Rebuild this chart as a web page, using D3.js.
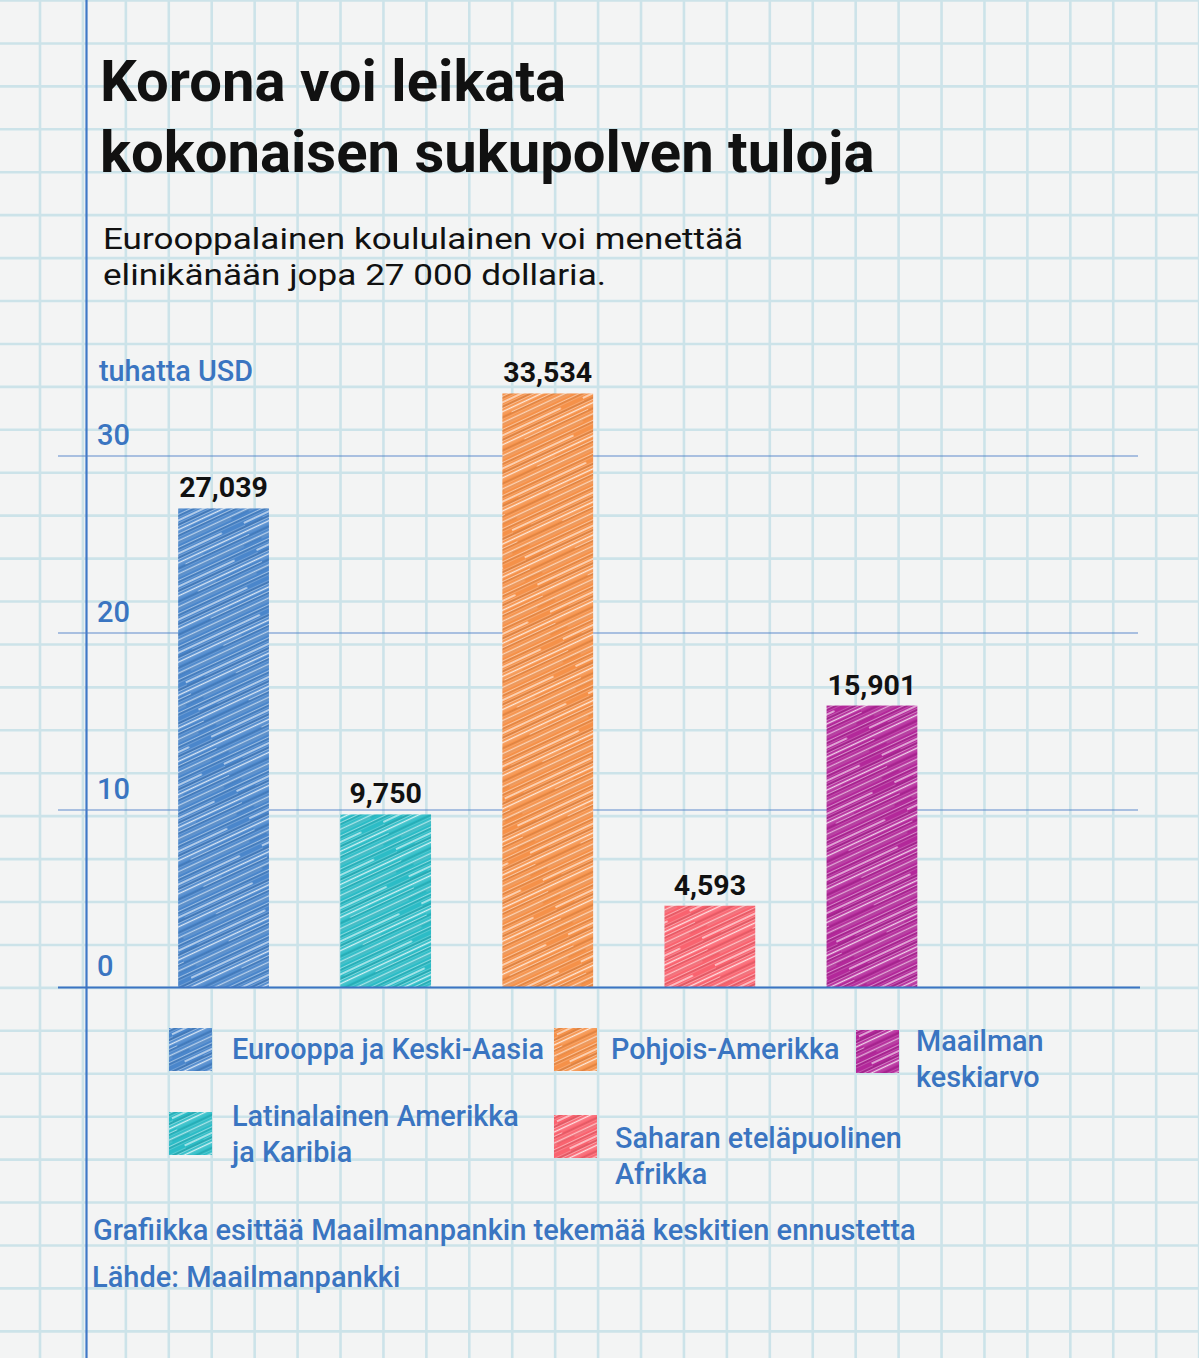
<!DOCTYPE html>
<html><head><meta charset="utf-8">
<script src="https://cdn.jsdelivr.net/npm/d3@7"></script>
<style>
html,body{margin:0;padding:0;background:#f3f4f4;}
svg{display:block;}
</style></head>
<body>
<svg id="chart" width="1199" height="1358"></svg>
<script>
// ---- data ----
const categories = ["Eurooppa ja Keski-Aasia", "Latinalainen Amerikka ja Karibia", "Pohjois-Amerikka", "Saharan eteläpuolinen Afrikka", "Maailman keskiarvo"];
const values = [27.039, 9.750, 33.534, 4.593, 15.901];
const valueLabels = ["27,039", "9,750", "33,534", "4,593", "15,901"];
const colors = ["#4a86cb", "#2cbcc6", "#f59149", "#f9636f", "#b3289a"];
const yTicks = [0, 10, 20, 30];
const yTickLabels = ["0", "10", "20", "30"];
const legendLines = [["Eurooppa ja Keski-Aasia"], ["Latinalainen Amerikka", "ja Karibia"], ["Pohjois-Amerikka"], ["Saharan eteläpuolinen", "Afrikka"], ["Maailman", "keskiarvo"]];
const titleLines = ["Korona voi leikata", "kokonaisen sukupolven tuloja"];
const subtitleLines = ["Eurooppalainen koululainen voi menettää", "elinikänään jopa 27 000 dollaria."];
const unitLabel = "tuhatta USD";
const noteText = "Grafiikka esittää Maailmanpankin tekemää keskitien ennustetta";
const sourceText = "Lähde: Maailmanpankki";

const W = 1199, H = 1358;
const svg = d3.select("#chart");
const blue = "#3a75c1";
const defs = svg.append("defs");

// ---- paper background ----
svg.append("rect").attr("width", W).attr("height", H).attr("fill", "#f3f4f4");
const gridStep = 42.93;
const paper = svg.append("g").attr("stroke", "#cce3e9").attr("stroke-width", 2.6);
paper.selectAll("line.v").data(d3.range(40 - gridStep, W + gridStep, gridStep)).join("line")
  .attr("x1", d => d).attr("x2", d => d).attr("y1", 0).attr("y2", H);
paper.selectAll("line.h").data(d3.range(0.5, H + gridStep, gridStep)).join("line")
  .attr("y1", d => d).attr("y2", d => d).attr("x1", 0).attr("x2", W);
// margin line
svg.append("line").attr("x1", 86.5).attr("x2", 86.5).attr("y1", 0).attr("y2", H)
  .attr("stroke", "#3f78c6").attr("stroke-width", 2.2);

// ---- sketch patterns ----
const streaks = [
  [0, 120, 1.5, 0.45, 1.0], [0, 120, 4.5, 0.3, 0.6], [0, 95, 7.0, 0.75, 1.7], [20, 120, 9.5, 0.3, 0.7],
  [0, 120, 12.5, 0.45, 0.9], [0, 120, 15.5, 0.8, 1.6], [0, 70, 18.0, 0.3, 0.6], [50, 120, 19.5, 0.5, 1.0],
  [0, 120, 22.5, 0.3, 0.6], [0, 120, 25.5, 0.6, 1.3], [10, 110, 28.0, 0.35, 0.7]
];
const darkStreaks = [[0, 120, 3.0, 0.14, 1.0], [0, 120, 11.0, 0.12, 1.3], [0, 120, 20.8, 0.16, 0.9], [0, 120, 27, 0.1, 1.0]];
colors.forEach((c, i) => {
  const p = defs.append("pattern").attr("id", "sk" + i).attr("patternUnits", "userSpaceOnUse")
    .attr("width", 120).attr("height", 30).attr("patternTransform", "rotate(-25)");
  p.append("rect").attr("width", 120).attr("height", 30).attr("fill", c);
  darkStreaks.forEach(s => p.append("line").attr("x1", s[0]).attr("x2", s[1]).attr("y1", s[2]).attr("y2", s[2])
    .attr("stroke", "#000").attr("stroke-opacity", s[3]).attr("stroke-width", s[4]));
  streaks.forEach(s => p.append("line").attr("x1", s[0]).attr("x2", s[1]).attr("y1", s[2]).attr("y2", s[2])
    .attr("stroke", "#fff").attr("stroke-opacity", s[3]).attr("stroke-width", s[4]).attr("stroke-linecap", "round"));
});

// ---- titles ----
const title = svg.append("g").attr("font-family", "Roboto, sans-serif").attr("font-weight", 700)
  .attr("fill", "#111").attr("font-size", 58);
title.selectAll("text").data(titleLines).join("text")
  .attr("x", 100).attr("y", (d, i) => 101 + i * 71).text(d => d);
const sub = svg.append("g").attr("font-family", "Roboto, sans-serif").attr("font-weight", 400)
  .attr("fill", "#111").attr("font-size", 30);
sub.selectAll("text").data(subtitleLines).join("text")
  .attr("x", 103).attr("y", (d, i) => 249 + i * 36)
  .attr("textLength", (d, i) => i === 0 ? 640 : 503).attr("lengthAdjust", "spacingAndGlyphs")
  .text(d => d);

// ---- scales ----
const x = d3.scaleBand().domain(categories).range([142.5, 953]).paddingInner(0.44).paddingOuter(0.22);
const y = d3.scaleLinear().domain([0, 30]).range([987, 456]);

// gridlines
const grid = svg.append("g");
grid.selectAll("line").data(yTicks.filter(d => d > 0)).join("line")
  .attr("x1", 58).attr("x2", 1138).attr("y1", d => y(d)).attr("y2", d => y(d))
  .attr("stroke", "#4f80c6").attr("stroke-width", 1.1).attr("stroke-opacity", 0.9);
// tick labels
svg.append("g").attr("font-family", "Roboto, sans-serif").attr("font-weight", 500)
  .attr("fill", blue).attr("font-size", 29)
  .selectAll("text").data(yTicks).join("text")
  .attr("x", 97).attr("y", d => y(d) - 11).text((d, i) => yTickLabels[i]);
svg.append("text").attr("x", 99).attr("y", 381).attr("font-family", "Roboto, sans-serif").attr("font-weight", 500)
  .attr("fill", blue).attr("font-size", 28.8).text(unitLabel);

// bars
svg.append("g").selectAll("rect").data(values).join("rect")
  .attr("x", (d, i) => x(categories[i])).attr("width", x.bandwidth())
  .attr("y", d => y(d)).attr("height", d => y(0) - y(d))
  .attr("fill", (d, i) => `url(#sk${i})`);
// value labels
svg.append("g").attr("font-family", "Roboto, sans-serif").attr("font-weight", 700)
  .attr("fill", "#111").attr("font-size", 28.5).attr("text-anchor", "middle")
  .selectAll("text").data(values).join("text")
  .attr("x", (d, i) => x(categories[i]) + x.bandwidth() / 2).attr("y", d => y(d) - 11)
  .text((d, i) => valueLabels[i]);
// baseline
svg.append("line").attr("x1", 58).attr("x2", 1140).attr("y1", y(0) + 0.5).attr("y2", y(0) + 0.5)
  .attr("stroke", "#3c74c2").attr("stroke-width", 2.2);

// ---- legend ----
const legendPos = [[169, 1028], [169, 1112], [554, 1028], [554, 1115], [856, 1030]];
const legendTextDX = [63, 63, 57, 61, 60];
const legendTextDY = [31, 14, 31, 33, 21];
const lg = svg.append("g");
categories.forEach((c, i) => {
  const g = lg.append("g").attr("transform", `translate(${legendPos[i][0]},${legendPos[i][1]})`);
  g.append("rect").attr("width", 43).attr("height", 43).attr("fill", `url(#sk${i})`);
  g.append("g").attr("font-family", "Roboto, sans-serif").attr("font-weight", 500)
    .attr("fill", blue).attr("font-size", 28.8)
    .selectAll("text").data(legendLines[i]).join("text")
    .attr("x", legendTextDX[i]).attr("y", (d, j) => legendTextDY[i] + j * 35.5).text(d => d);
});

// ---- footer ----
const foot = svg.append("g").attr("font-family", "Roboto, sans-serif").attr("font-weight", 500)
  .attr("fill", blue).attr("font-size", 29);
foot.append("text").attr("x", 93).attr("y", 1240).text(noteText);
foot.append("text").attr("x", 92).attr("y", 1287).text(sourceText);
</script>
</body></html>
